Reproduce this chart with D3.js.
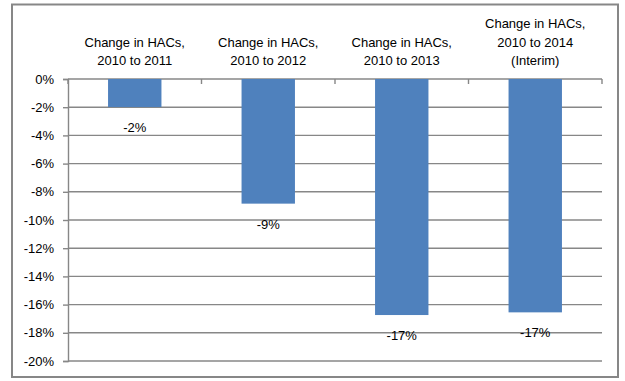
<!DOCTYPE html>
<html><head><meta charset="utf-8">
<script src="https://cdn.jsdelivr.net/npm/d3@7"></script>
<style>body{margin:0;background:#fff}svg{display:block}</style>
</head><body>
<script>
const categories = [
  ["Change in HACs,", "2010 to 2011"],
  ["Change in HACs,", "2010 to 2012"],
  ["Change in HACs,", "2010 to 2013"],
  ["Change in HACs,", "2010 to 2014", "(Interim)"]
];
const values = [-0.0199, -0.0884, -0.1674, -0.1655];
const dataLabels = ["-2%", "-9%", "-17%", "-17%"];
const yTicks = [0, -0.02, -0.04, -0.06, -0.08, -0.10, -0.12, -0.14, -0.16, -0.18, -0.20];

const W = 625, H = 381;
const m = {left: 68, right: 602, top: 79, bottom: 361};
const font = "Liberation Sans, Arial, sans-serif";

const svg = d3.select("body").append("svg").attr("width", W).attr("height", H);
svg.append("rect").attr("width", W).attr("height", H).attr("fill", "#fff");
svg.append("rect").attr("x", 12).attr("y", 4.5).attr("width", 606).attr("height", 372.5)
  .attr("fill", "none").attr("stroke", "#878787").attr("stroke-width", 2);

const x = d3.scaleBand().domain(d3.range(categories.length)).range([m.left, m.right]).padding(0);
const y = d3.scaleLinear().domain([-0.20, 0]).range([m.bottom, m.top]);

// gridlines
svg.append("g").selectAll("line").data(yTicks).join("line")
  .attr("x1", m.left).attr("x2", m.right)
  .attr("y1", d => y(d)).attr("y2", d => y(d))
  .attr("stroke", "#878787").attr("stroke-width", 1.4);

// y axis
const yAxis = d3.axisLeft(y).tickValues(yTicks).tickSize(5).tickPadding(9)
  .tickFormat(d => Math.round(d * 100) + "%");
const ya = svg.append("g").attr("transform", `translate(${m.left},0)`).call(yAxis);
ya.select(".domain").attr("stroke", "#878787").attr("stroke-width", 1.4);
ya.selectAll(".tick line").attr("stroke", "#878787").attr("stroke-width", 1.4);
ya.selectAll("text").attr("font-family", font).attr("font-size", 13).attr("fill", "#000");

// category ticks at zero line
const bounds = d3.range(categories.length + 1).map(i => i < categories.length ? x(i) : m.right);
svg.append("g").selectAll("line").data(bounds).join("line")
  .attr("x1", d => d).attr("x2", d => d)
  .attr("y1", y(0)).attr("y2", y(0) + 5)
  .attr("stroke", "#878787").attr("stroke-width", 1.4);

// bars
const bw = x.bandwidth() * 0.4;
svg.append("g").selectAll("rect").data(values).join("rect")
  .attr("x", (d, i) => x(i) + x.bandwidth() / 2 - bw / 2)
  .attr("y", y(0))
  .attr("width", bw)
  .attr("height", d => y(d) - y(0))
  .attr("fill", "#4f81bd");

// data labels
svg.append("g").selectAll("text").data(values).join("text")
  .attr("x", (d, i) => x(i) + x.bandwidth() / 2)
  .attr("y", d => y(d) + 25)
  .attr("text-anchor", "middle")
  .attr("font-family", font).attr("font-size", 13).attr("fill", "#000")
  .text((d, i) => dataLabels[i]);

// category labels
const cg = svg.append("g");
categories.forEach((lines, i) => {
  const n = lines.length;
  lines.forEach((t, j) => {
    cg.append("text")
      .attr("x", x(i) + x.bandwidth() / 2)
      .attr("y", 65 - (n - 1 - j) * 18.5)
      .attr("text-anchor", "middle")
      .attr("font-family", font).attr("font-size", 13).attr("fill", "#000")
      .text(t);
  });
});
</script>
</body></html>
